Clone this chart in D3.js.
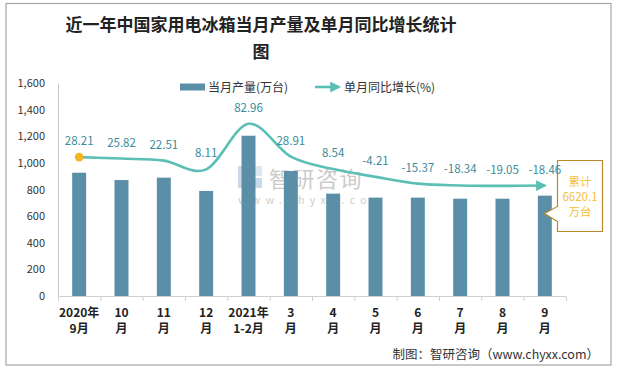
<!DOCTYPE html>
<html><head><meta charset="utf-8">
<script src="https://cdn.jsdelivr.net/npm/d3@7"></script>
<style>
html,body{margin:0;padding:0;background:#fff;}
svg{display:block;}
text{font-family:"Noto Sans CJK SC","Noto Sans",sans-serif;}
</style></head>
<body>
<svg id="chart" width="617" height="369"></svg>
<script>
const categoriesTop = ["2020年","10","11","12","2021年","3","4","5","6","7","8","9"];
const categoriesBottom = ["9月","月","月","月","1-2月","月","月","月","月","月","月","月"];
const production = [926, 871, 889, 789, 1204, 939, 769, 739, 739, 731, 731, 754];
const growth = [28.21, 25.82, 22.51, 8.11, 82.96, 28.91, 8.54, -4.21, -15.37, -18.34, -19.05, -18.46];
const yTicks = [0, 200, 400, 600, 800, 1000, 1200, 1400, 1600];
const titleLines = ["近一年中国家用电冰箱当月产量及单月同比增长统计", "图"];
const legendLabels = ["当月产量(万台)", "单月同比增长(%)"];
const calloutLines = ["累计", "6620.1", "万台"];
const footerText = "制图：智研咨询（www.chyxx.com）";

const svg = d3.select("#chart");
const barColor = "#5b8fa7", lineColor = "#5bbfb5", labelColor = "#3a8c9c";

// frame
svg.append("rect").attr("x",6).attr("y",3.5).attr("width",605).attr("height",361.5)
  .attr("fill","#fff").attr("stroke","#a6a6a6").attr("stroke-width",1.2);

// title
svg.append("g").selectAll("text").data(titleLines).join("text")
  .attr("x",261).attr("y",(d,i)=>31+i*27).attr("text-anchor","middle")
  .attr("font-size",17).attr("font-weight","bold").attr("fill","#222").text(d=>d);

const x = d3.scaleBand().domain(d3.range(production.length)).range([58,566]).paddingInner(0.67).paddingOuter(0.335);
const xb = d3.scaleBand().domain(d3.range(production.length)).range([58,566]);
const y = d3.scaleLinear().domain([0,1600]).range([296,83]);
const y2 = d3.scaleLinear().domain([-200,150]).range([296,83]);

// watermark
const wm = svg.append("g").attr("opacity",0.5);
wm.append("rect").attr("x",238).attr("y",166).attr("width",11).attr("height",22).attr("fill","#9fb0cc");
wm.append("rect").attr("x",250).attr("y",166).attr("width",12).attr("height",10).attr("fill","#bcd0e6");
wm.append("rect").attr("x",250).attr("y",178).attr("width",12).attr("height",10).attr("fill","#8fb7dc");
wm.append("text").attr("x",269).attr("y",187).attr("font-size",22).attr("fill","#999").attr("letter-spacing",1.5).text("智研咨询");
wm.append("text").attr("x",238).attr("y",204).attr("font-size",10.5).attr("fill","#999").attr("letter-spacing",5.4).text("www.chyxx.com");

// y axis
const yAxis = d3.axisLeft(y).tickValues(yTicks).tickSize(0).tickPadding(13).tickFormat(d3.format(","));
const gy = svg.append("g").attr("transform","translate(58,0)").call(yAxis);
gy.select(".domain").attr("stroke","#c8c8c8");
gy.selectAll("text").attr("font-size",11).attr("fill","#333").attr("font-family","'Liberation Sans',Arial,sans-serif");

// bars
svg.append("g").selectAll("rect").data(production).join("rect")
  .attr("x",(d,i)=>x(i)).attr("width",x.bandwidth())
  .attr("y",d=>y(d)).attr("height",d=>y(0)-y(d)).attr("fill",barColor);

// x axis
svg.append("line").attr("x1",58).attr("x2",566).attr("y1",296.5).attr("y2",296.5).attr("stroke","#d0d0d0");
svg.append("g").selectAll("line").data(d3.range(production.length+1)).join("line")
  .attr("x1",i=>i<production.length?xb(i)+0.5:566.5).attr("x2",i=>i<production.length?xb(i)+0.5:566.5)
  .attr("y1",296.5).attr("y2",301).attr("stroke","#d0d0d0");
const xl = svg.append("g").attr("font-size",12).attr("font-weight","bold").attr("fill","#222").attr("text-anchor","middle");
xl.selectAll(".t1").data(categoriesTop).join("text").attr("class","t1")
  .attr("x",(d,i)=>xb(i)+xb.bandwidth()/2).attr("y",317).text(d=>d);
xl.selectAll(".t2").data(categoriesBottom).join("text").attr("class","t2")
  .attr("x",(d,i)=>xb(i)+xb.bandwidth()/2).attr("y",333).text(d=>d);

// line
const defs = svg.append("defs");
defs.append("marker").attr("id","arrow").attr("viewBox","0 0 10 10").attr("refX",8).attr("refY",5)
  .attr("markerWidth",4.2).attr("markerHeight",4.2).attr("orient","auto")
  .append("path").attr("d","M0,0 L10,5 L0,10 z").attr("fill",lineColor);
const cx = i => xb(i)+xb.bandwidth()/2;
const line = d3.line().x((d,i)=>cx(i)).y(d=>y2(d)).curve(d3.curveCardinal.tension(0));
svg.append("path").datum(growth).attr("d",line).attr("fill","none").attr("stroke",lineColor)
  .attr("stroke-width",2.6).attr("marker-end","url(#arrow)");
svg.append("circle").attr("cx",cx(0)).attr("cy",y2(growth[0])).attr("r",4.3).attr("fill","#f5b521");

// callout
svg.append("path").attr("d","M557.5,160.5 H602.5 V231.5 H557.5 V221.5 L544.5,213.5 L557.5,206.5 Z")
  .attr("fill","#fff").attr("stroke","#b98a2e").attr("stroke-width",1.2);
svg.append("g").selectAll("text").data(calloutLines).join("text")
  .attr("x",580).attr("y",(d,i)=>186+i*15).attr("text-anchor","middle")
  .attr("font-size",11.5).attr("fill","#f5bf3c").text(d=>d);

// data labels
svg.append("g").selectAll("text").data(growth).join("text")
  .attr("x",(d,i)=>cx(i)).attr("y",d=>y2(d)-12).attr("text-anchor","middle")
  .attr("font-size",11.5).attr("fill",labelColor).text(d=>d.toFixed(2));

// legend
svg.append("rect").attr("x",180).attr("y",83.5).attr("width",25).attr("height",7).attr("fill",barColor);
svg.append("text").attr("x",208).attr("y",91.5).attr("font-size",12).attr("fill","#333").text(legendLabels[0]);
svg.append("line").attr("x1",315).attr("x2",339).attr("y1",87).attr("y2",87).attr("stroke",lineColor)
  .attr("stroke-width",2.6).attr("marker-end","url(#arrow)");
svg.append("text").attr("x",344).attr("y",91.5).attr("font-size",12).attr("fill","#333").text(legendLabels[1]);

// footer
svg.append("text").attr("x",599).attr("y",359).attr("text-anchor","end").attr("font-size",12.5)
  .attr("fill","#333").text(footerText);
</script>
</body></html>
